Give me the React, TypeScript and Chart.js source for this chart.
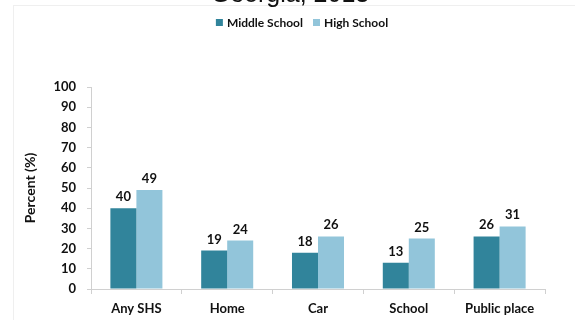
import React, { useEffect, useRef } from "react";
import { Chart, registerables } from "chart.js";

Chart.register(...registerables);

const chartTitle = "Georgia, 2013";
const categories = ["Any SHS", "Home", "Car", "School", "Public place"];
const middleSchool = [40, 19, 18, 13, 26];
const highSchool = [49, 24, 26, 25, 31];
const yTicks = [0, 10, 20, 30, 40, 50, 60, 70, 80, 90, 100];
const yAxisTitle = "Percent (%)";

const DARK = "#31849B";
const LIGHT = "#92C5DA";
const TEXT = "#111111";
const FONT = "Lato, 'Open Sans', sans-serif";
const OFFSET = 30; // canvas is shifted up by this many px

const overlayPlugin = {
  id: "overlay",
  afterDatasetsDraw(chart: any) {
    const ctx = chart.ctx;
    ctx.save();
    // value labels
    ctx.fillStyle = TEXT;
    ctx.font = `bold 13px ${FONT}`;
    ctx.textAlign = "center";
    ctx.textBaseline = "alphabetic";
    chart.data.datasets.forEach((ds: any, di: number) => {
      const meta = chart.getDatasetMeta(di);
      meta.data.forEach((el: any, i: number) => {
        ctx.fillText(String(ds.data[i]), el.x, el.y - 7);
      });
    });
    // title (clipped at top)
    ctx.font = `25px 'Liberation Sans', Arial, sans-serif`;
    ctx.fillStyle = "#111111";
    ctx.textAlign = "center";
    ctx.fillText(chartTitle, 290, OFFSET + 2);
    // legend
    ctx.font = `bold 12px ${FONT}`;
    ctx.textAlign = "left";
    ctx.textBaseline = "middle";
    const box = 7;
    const gapText = 4;
    const gapItem = 10;
    const items = chart.data.datasets.map((ds: any) => ({
      label: ds.label,
      color: ds.backgroundColor,
      w: ctx.measureText(ds.label).width,
    }));
    const total = items.reduce((s: number, it: any) => s + box + gapText + it.w, 0) + gapItem * (items.length - 1);
    let x = 302 - total / 2;
    const cy = OFFSET + 22.5;
    items.forEach((it: any) => {
      ctx.fillStyle = it.color;
      ctx.fillRect(x, cy - box / 2, box, box);
      ctx.fillStyle = TEXT;
      ctx.fillText(it.label, x + box + gapText, cy + 0.5);
      x += box + gapText + it.w + gapItem;
    });
    ctx.restore();
  },
};

export default function App() {
  const ref = useRef<HTMLCanvasElement>(null);
  useEffect(() => {
    const chart = new Chart(ref.current!, {
      type: "bar",
      data: {
        labels: categories,
        datasets: [
          { label: "Middle School", data: middleSchool, backgroundColor: DARK },
          { label: "High School", data: highSchool, backgroundColor: LIGHT },
        ],
      },
      options: {
        animation: false,
        responsive: false,
        devicePixelRatio: 1,
        layout: { padding: { top: 117, right: 30, left: 0, bottom: 0 } },
        plugins: {
          legend: { display: false },
          title: { display: false },
          tooltip: { enabled: false },
        },
        datasets: {
          bar: { categoryPercentage: 0.573, barPercentage: 1.0 },
        },
        scales: {
          x: {
            offset: true,
            grid: {
              offset: true,
              drawOnChartArea: false,
              drawTicks: true,
              tickLength: 5,
              color: "#d0d0d0",
            },
            border: { color: "#d0d0d0" },
            ticks: {
              color: TEXT,
              font: { family: FONT, size: 13, weight: "bold" },
              padding: 7,
              maxRotation: 0,
            },
            afterFit(scale: any) {
              scale.height = 31;
            },
          },
          y: {
            min: 0,
            max: 100,
            afterBuildTicks(scale: any) {
              scale.ticks = yTicks.map((v) => ({ value: v }));
            },
            grid: {
              drawOnChartArea: false,
              drawTicks: true,
              tickLength: 4,
              color: "#d0d0d0",
            },
            border: { color: "#d0d0d0" },
            ticks: {
              color: TEXT,
              font: { family: FONT, size: 13, weight: "bold" },
              padding: 11,
            },
            title: {
              display: true,
              text: yAxisTitle,
              color: TEXT,
              font: { family: FONT, size: 14, weight: "bold" },
              padding: { top: 22, bottom: 0 },
            },
            afterFit(scale: any) {
              scale.width = 91;
            },
          },
        },
      },
      plugins: [overlayPlugin],
    });
    return () => chart.destroy();
  }, []);

  return (
    <div
      style={{
        position: "absolute",
        left: 0,
        top: 0,
        width: 575,
        height: 320,
        overflow: "hidden",
        background: "#ffffff",
      }}
    >
      <div
        style={{
          position: "absolute",
          left: 13,
          top: 5,
          right: 0,
          bottom: 0,
          borderLeft: "1px solid #efefef",
          borderTop: "1px solid #efefef",
        }}
      />
      <canvas
        ref={ref}
        width={575}
        height={350}
        style={{ position: "absolute", left: 0, top: -OFFSET, width: 575, height: 350 }}
      />
    </div>
  );
}
